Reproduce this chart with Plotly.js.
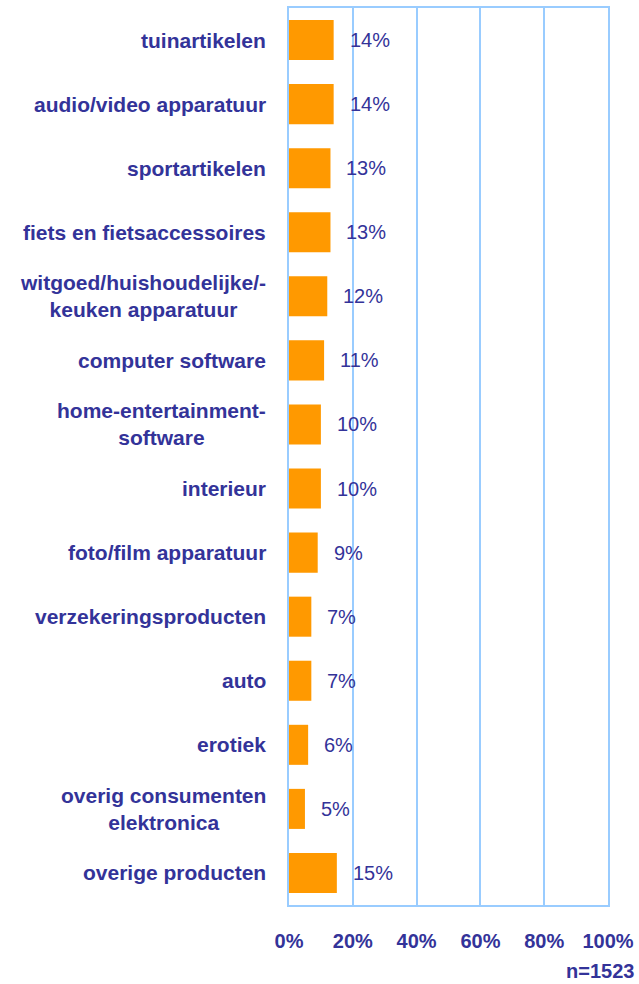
<!DOCTYPE html>
<html>
<head>
<meta charset="utf-8">
<script src="https://cdn.plot.ly/plotly-3.0.1.min.js"></script>
<style>html,body{margin:0;padding:0;background:#fff;}#chart{width:639px;height:984px;}</style>
</head>
<body>
<div id="chart"></div>
<script>
const categories = [
  "tuinartikelen",
  "audio/video apparatuur",
  "sportartikelen",
  "fiets en fietsaccessoires",
  "witgoed/huishoudelijke/-<br>keuken apparatuur",
  "computer software",
  "home-entertainment-<br>software",
  "interieur",
  "foto/film apparatuur",
  "verzekeringsproducten",
  "auto",
  "erotiek",
  "overig consumenten<br>elektronica",
  "overige producten"
];
const values = [14, 14, 13, 13, 12, 11, 10, 10, 9, 7, 7, 6, 5, 15];
const tickVals = [0, 20, 40, 60, 80, 100];
const tickText = ["0%", "20%", "40%", "60%", "80%", "100%"];
const footnote = "n=1523";

const blue = "#333399";
const grid = "#99CCFF";
const font = "Liberation Sans, Arial, sans-serif";

const trace = {
  type: "bar",
  orientation: "h",
  y: categories,
  x: values,
  width: 0.625,
  marker: {color: "#FF9900"},
  hoverinfo: "none"
};

const annotations = [];
categories.forEach((c, i) => {
  annotations.push({
    x: values[i], y: c, xref: "x", yref: "y",
    text: values[i] + "%",
    showarrow: false, xanchor: "left", xshift: 14,
    font: {family: font, size: 20, color: blue}
  });
  annotations.push({
    x: 0, y: c, xref: "paper", yref: "y",
    text: "<b>" + c + "</b>",
    showarrow: false, xanchor: "right", align: "center", xshift: -21,
    font: {family: font, size: 21, color: blue}
  });
});
annotations.push({
  xref: "paper", yref: "paper", x: 1.087, y: -0.088,
  xanchor: "right", yanchor: "bottom", showarrow: false,
  text: "<b>" + footnote + "</b>",
  font: {family: font, size: 20, color: blue}
});

const layout = {
  width: 639, height: 984,
  margin: {l: 289, r: 31, t: 8, b: 79},
  paper_bgcolor: "#fff", plot_bgcolor: "#fff",
  showlegend: false,
  xaxis: {
    range: [0, 100], tickvals: tickVals, ticktext: tickText,
    showgrid: true, gridcolor: grid, gridwidth: 2,
    showline: true, mirror: true, linecolor: grid, linewidth: 2,
    zeroline: false, ticks: "outside", ticklen: 17, tickcolor: "rgba(0,0,0,0)",
    tickfont: {family: font, size: 20, color: blue, weight: "bold"},
    fixedrange: true
  },
  yaxis: {
    categoryorder: "array", categoryarray: categories, autorange: "reversed",
    showgrid: false, showline: true, mirror: true, linecolor: grid, linewidth: 2,
    showticklabels: false, ticks: "",
    fixedrange: true
  },
  annotations: annotations
};

Plotly.newPlot("chart", [trace], layout, {displayModeBar: false, staticPlot: true});
</script>
</body>
</html>
